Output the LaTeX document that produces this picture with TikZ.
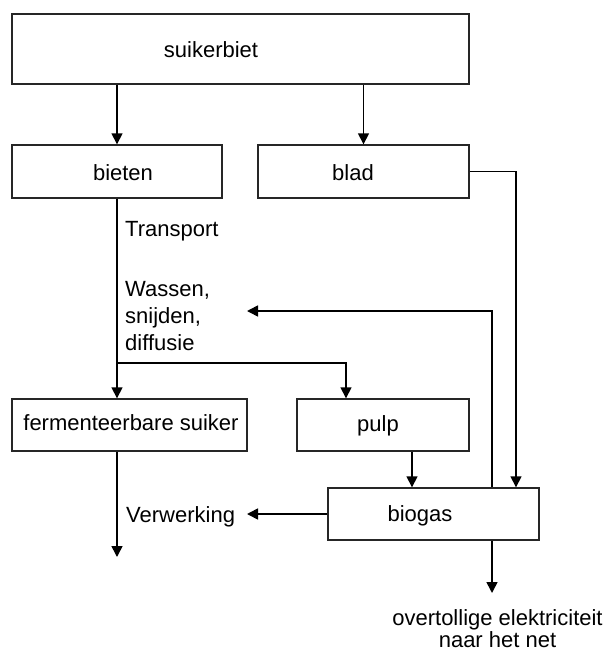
\documentclass[tikz,border=0pt]{standalone}
\usepackage{fontspec}
\setmainfont{Liberation Sans}
\usetikzlibrary{arrows.meta}
\begin{document}
\begin{tikzpicture}[x=1pt,y=-1pt,
  box/.style={draw=black!85, line width=1.4pt, rectangle, inner sep=0pt},
  lbl/.style={inner sep=0pt, anchor=base, font=\fontsize{22}{27}\selectfont},
  lblw/.style={inner sep=0pt, anchor=base west, align=left, font=\fontsize{22}{27}\selectfont},
  conn/.style={line width=1.6pt, -{Triangle[length=11pt,width=11pt]}}]
\useasboundingbox (0,0) rectangle (609,653);
% boxes
\node[box, minimum width=457pt, minimum height=70pt] (suik) at (240.5,49) {};
\node[box, minimum width=210pt, minimum height=53pt] (bieten) at (117,171.5) {};
\node[box, minimum width=211pt, minimum height=53pt] (blad) at (363.5,171.5) {};
\node[box, minimum width=235pt, minimum height=52pt] (ferm) at (129.5,425) {};
\node[box, minimum width=172pt, minimum height=52pt] (pulp) at (383,425) {};
\node[box, minimum width=211pt, minimum height=52pt] (biogas) at (433.5,514) {};
% box texts
\node[lbl] (tsuik) at (211,57) {suikerbiet};
\node[lbl] (tbieten) at (123,180) {bieten};
\node[lbl] (tblad) at (353,180) {blad};
\node[lbl] (tferm) at (131,430) {fermenteerbare suiker};
\node[lbl] (tpulp) at (378,431) {pulp};
\node[lbl] (tbiogas) at (420,521) {biogas};
% free labels
\node[lblw] (ttrans) at (125,236) {Transport};
\node[lblw] (twas) at (125,350) {Wassen,\\snijden,\\diffusie};
\node[lblw] (tverw) at (126,522) {Verwerking};
\node[inner sep=0pt, anchor=base, align=center, font=\fontsize{22}{22}\selectfont] (tnet) at (497.5,647) {overtollige elektriciteit\\naar het net};
% coordinates
\coordinate (bladR) at (516,172);
\coordinate (br) at (117,363);
\coordinate (pulpin) at (346,363);
\coordinate (pulpout) at (412,451);
\coordinate (fb) at (492,311);
\coordinate (fbend) at (247,311);
\coordinate (verw) at (247,515);
\coordinate (fermend) at (117,557);
\coordinate (netend) at (492,593);
% connectors
\draw[conn] (bieten.north |- suik.south) -- (bieten.north);
\draw[conn] (blad.north |- suik.south) -- (blad.north);
\draw[conn] (blad.east) -| (bladR |- biogas.north);
\draw[conn] (bieten.south) -- (ferm.north -| bieten.south);
\draw[conn] (br) -- (pulpin) -- (pulpin |- pulp.north);
\draw[conn] (pulp.south -| pulpout) -- (pulpout |- biogas.north);
\draw[conn] (biogas.north -| fb) -- (fb) -- (fbend);
\draw[conn] (biogas.west) -- (verw |- biogas.west);
\draw[conn] (ferm.south -| fermend) -- (fermend);
\draw[conn] (biogas.south -| netend) -- (netend);
\end{tikzpicture}
\end{document}
